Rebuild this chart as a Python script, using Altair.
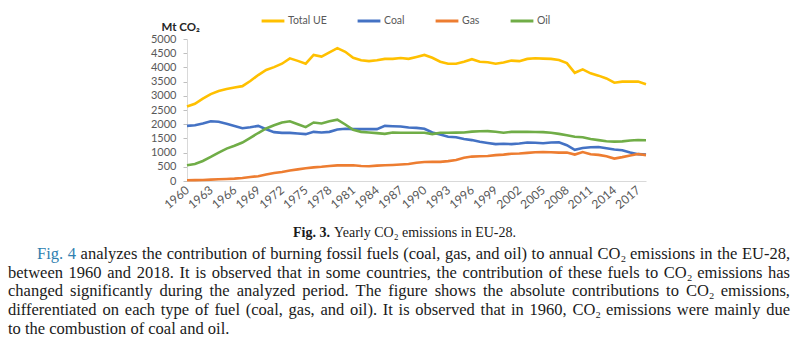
import altair as alt
import pandas as pd

years = list(range(1960, 2019))
total_ue = [2620, 2720, 2900, 3060, 3170, 3240, 3290, 3340, 3520, 3730,
            3910, 4010, 4130, 4320, 4230, 4130, 4440, 4380, 4530, 4680,
            4550, 4340, 4250, 4220, 4250, 4300, 4300, 4330, 4300, 4370,
            4440, 4340, 4200, 4130, 4130, 4200, 4290, 4200, 4180, 4130,
            4170, 4240, 4220, 4300, 4320, 4310, 4300, 4260, 4150, 3810,
            3930, 3790, 3710, 3610, 3460, 3500, 3500, 3500, 3410]
coal = [1940, 1965, 2025, 2105, 2085, 2015, 1940, 1860, 1895, 1940,
        1825, 1720, 1695, 1695, 1675, 1650, 1730, 1710, 1730, 1815,
        1840, 1825, 1825, 1825, 1825, 1940, 1930, 1920, 1885, 1870,
        1840, 1710, 1640, 1560, 1540, 1480, 1440, 1380, 1340, 1300,
        1310, 1300, 1320, 1355, 1345, 1330, 1355, 1360, 1260, 1100,
        1160, 1190, 1195, 1150, 1110, 1080, 1000, 945, 930]
gas = [25, 30, 36, 48, 60, 71, 84, 107, 140, 170,
       230, 280, 320, 370, 410, 450, 480, 500, 530, 550,
       550, 555, 530, 520, 540, 555, 565, 580, 600, 640,
       670, 680, 675, 700, 740, 820, 860, 870, 880, 910,
       930, 960, 970, 990, 1010, 1020, 1010, 1000, 1000, 930,
       1020, 940, 920, 870, 790, 840, 900, 950, 910]
oil = [555, 600, 706, 847, 1000, 1140, 1240, 1355, 1520, 1690,
       1850, 1965, 2060, 2105, 2000, 1895, 2060, 2025, 2105, 2160,
       1990, 1800, 1730, 1710, 1685, 1660, 1705, 1700, 1700, 1700,
       1700, 1650, 1700, 1700, 1705, 1710, 1740, 1750, 1755, 1735,
       1700, 1730, 1730, 1730, 1725, 1720, 1700, 1660, 1610, 1560,
       1540, 1480, 1440, 1400, 1385, 1395, 1425, 1445, 1435]

series_names = ["Total UE", "Coal", "Gas", "Oil"]
series_colors = ["#FFC000", "#4472C4", "#ED7D31", "#70AD47"]
y_ticks = list(range(0, 5001, 500))
x_ticks = list(range(1960, 2018, 3))

caption_bold = "Fig. 3."
caption_rest = "Yearly CO₂ emissions in EU-28."
para_link = "Fig. 4"
para_lines = [
    "Fig. 4 analyzes the contribution of burning fossil fuels (coal, gas, and oil) to annual CO₂ emissions in the EU-28,",
    "between 1960 and 2018. It is observed that in some countries, the contribution of these fuels to CO₂ emissions has",
    "changed significantly during the analyzed period. The figure shows the absolute contributions to CO₂ emissions,",
    "differentiated on each type of fuel (coal, gas, and oil). It is observed that in 1960, CO₂ emissions were mainly due",
    "to the combustion of coal and oil.",
]

rows = []
for name, vals in zip(series_names, [total_ue, coal, gas, oil]):
    for yr, v in zip(years, vals):
        rows.append({"Year": yr, "Series": name, "Value": v})
df = pd.DataFrame(rows)

PLOT_LEFT, PLOT_TOP, PLOT_W, PLOT_H = 187, 39, 459, 142
W, H = 800, 352
GREY = "#595959"
TEXT = "#1a1a1a"
LINK = "#2f7fb0"

lines = alt.Chart(df).mark_line(strokeWidth=2.6).encode(
    x=alt.X("Year:Q",
            scale=alt.Scale(domain=[1960, 2018], nice=False, zero=False),
            axis=alt.Axis(values=x_ticks, format="d", labelAngle=-40, grid=False,
                          ticks=False, domainColor="#d9d9d9", labelColor=GREY,
                          labelFont="Lato", labelFontSize=12, labelPadding=7,
                          labelAlign="right", labelBaseline="middle",
                          labelOverlap=False, title=None)),
    y=alt.Y("Value:Q",
            scale=alt.Scale(domain=[0, 5000], nice=False),
            axis=alt.Axis(values=y_ticks, format="d", grid=False,
                          domainColor="#d9d9d9", tickColor="#bfbfbf", tickSize=4,
                          labelColor=GREY, labelFont="Lato", labelFontSize=11,
                          labelPadding=7, labelOverlap=False,
                          title="Mt CO₂", titleAngle=0, titleAlign="left",
                          titleBaseline="middle", titleX=-26, titleY=-12,
                          titleFont="Lato", titleFontSize=11.5,
                          titleFontWeight="bold", titleColor="#262626")),
    color=alt.Color("Series:N",
                    scale=alt.Scale(domain=series_names, range=series_colors),
                    sort=series_names,
                    legend=alt.Legend(orient="none", legendX=73, legendY=-31,
                                      direction="horizontal", title=None,
                                      gridAlign="none",
                                      symbolType="stroke", symbolStrokeWidth=3,
                                      symbolSize=520, labelFont="Lato",
                                      labelFontSize=10.5, labelColor=GREY,
                                      columnPadding=24, labelOffset=2)),
)

# Times / Liberation Serif advance widths (per 1000 em) for justified layout
TIMES_W = {" ": 250, ",": 250, ".": 250, "(": 333, ")": 333, "-": 333, "₂": 300,
           "a": 444, "b": 500, "c": 444, "d": 500, "e": 444, "f": 333, "g": 500,
           "h": 500, "i": 278, "j": 278, "k": 500, "l": 278, "m": 778, "n": 500,
           "o": 500, "p": 500, "q": 500, "r": 333, "s": 389, "t": 278, "u": 500,
           "v": 500, "w": 722, "x": 500, "y": 500, "z": 444,
           "C": 667, "E": 611, "F": 556, "I": 333, "O": 722, "T": 611, "U": 722}
FS = 16.5


def word_width(w):
    return sum(TIMES_W.get(ch, 500) for ch in w) * FS / 1000.0


line_y = [254, 272.5, 291, 310, 329]
line_x0 = [37, 8, 8, 8, 8]
RIGHT = 790
word_rows = []
for i, txt in enumerate(para_lines):
    words = txt.split(" ")
    widths = [word_width(w) for w in words]
    last = i == len(para_lines) - 1
    if last:
        gap = TIMES_W[" "] * FS / 1000.0
    else:
        gap = (RIGHT - line_x0[i] - sum(widths)) / (len(words) - 1)
    x = line_x0[i]
    for j, (w, wd) in enumerate(zip(words, widths)):
        color = LINK if (i == 0 and j < 2) else TEXT
        word_rows.append({"word": w, "px": x - PLOT_LEFT,
                          "py": line_y[i] - PLOT_TOP, "col": color})
        x += wd + gap
words_df = pd.DataFrame(word_rows)

paragraph = alt.Chart(words_df).mark_text(
    align="left", baseline="middle", font="Liberation Serif", fontSize=FS,
).encode(
    x=alt.X("px:Q", scale=None, axis=None),
    y=alt.Y("py:Q", scale=None, axis=None),
    text="word:N",
    color=alt.Color("col:N", scale=None, legend=None),
)


def text_layer(txt, x, y, align="left", size=14, weight="normal",
               color=TEXT, font="Liberation Serif"):
    return alt.Chart(pd.DataFrame({"t": [txt]})).mark_text(
        align=align, baseline="middle", font=font, fontSize=size,
        fontWeight=weight, color=color,
    ).encode(x=alt.value(x - PLOT_LEFT), y=alt.value(y - PLOT_TOP), text="t:N")


caption = [
    text_layer(caption_bold, 330, 233, align="right", weight="bold"),
    text_layer(caption_rest, 334, 233, align="left"),
]

chart = alt.layer(lines, paragraph, *caption).properties(
    width=PLOT_W, height=PLOT_H,
    padding={"left": PLOT_LEFT, "top": PLOT_TOP,
             "right": W - PLOT_LEFT - PLOT_W, "bottom": H - PLOT_TOP - PLOT_H},
    autosize=alt.AutoSizeParams(type="none"),
    background="white",
).resolve_scale(color="independent").configure_view(stroke=None)

chart.save("out.html", embed_options={"renderer": "svg", "actions": False})
